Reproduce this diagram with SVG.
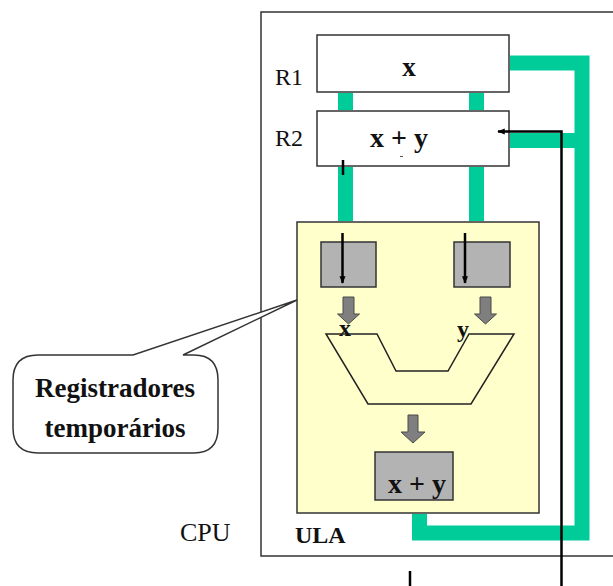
<svg xmlns="http://www.w3.org/2000/svg" width="613" height="586" viewBox="0 0 613 586">
<defs>
<style>
.t{font-family:"Liberation Serif","Times New Roman",serif;fill:#111}
.b{font-weight:bold}
.box{stroke:#333;stroke-width:1.5}
.bus{fill:none;stroke:#00CC99;stroke-width:15}
.busr{fill:#00CC99}
.wire{fill:none;stroke:#000;stroke-width:2.5}
.blk{fill:#7f7f7f;stroke:#4a4a4a;stroke-width:1}
</style>
<marker id="ah" viewBox="0 0 10 10" refX="9" refY="5" markerWidth="3" markerHeight="3" orient="auto">
<path d="M0,1 L10,5 L0,9 Z" fill="#000"/>
</marker>
</defs>
<rect width="613" height="586" fill="#fff"/>

<g id="cpu">
<rect x="261" y="12" width="370" height="544" fill="none" class="box"/>
<text class="t" x="180" y="541" font-size="26">CPU</text>
</g>

<g id="r1">
<rect x="317" y="35" width="192" height="57" fill="#fff" class="box"/>
<text class="t" x="275" y="85" font-size="24">R1</text>
<text class="t b" x="409" y="76" font-size="27" text-anchor="middle">x</text>
</g>

<g id="r2">
<rect x="317" y="111" width="192" height="55" fill="#fff" class="box"/>
<text class="t" x="275" y="146" font-size="24">R2</text>
<text class="t b" x="399" y="147" font-size="28" text-anchor="middle">x + y</text>
<line x1="400" y1="156.5" x2="403" y2="156.5" stroke="#555" stroke-width="1"/>
</g>

<g id="ula">
<rect x="297" y="222" width="242" height="291" fill="#FFFFCC" class="box"/>
<text class="t b" x="295" y="543" font-size="24">ULA</text>
</g>

<g id="reg-a">
<rect x="321" y="242" width="55" height="45" fill="#B3B3B3" class="box"/>
<line class="wire" x1="342.5" y1="233" x2="342.5" y2="283" marker-end="url(#ah)"/>
</g>
<g id="reg-b">
<rect x="454" y="242" width="56" height="45" fill="#B3B3B3" class="box"/>
<line class="wire" x1="465" y1="233" x2="465" y2="283" marker-end="url(#ah)"/>
</g>

<g id="alu">
<polygon points="326,334 377,334 396,371 448,371 469,334 514,334 471,404 368,404" fill="none" stroke="#222" stroke-width="1.5"/>
<text class="t b" x="345" y="336" font-size="24" text-anchor="middle">x</text>
<text class="t b" x="463" y="337" font-size="24" text-anchor="middle">y</text>
<polygon class="blk" points="343,297 354,297 354,314 359.5,314 348.5,324 337.5,314 343,314"/>
<polygon class="blk" points="480,297 491,297 491,314 496.5,314 485.5,324 474.5,314 480,314"/>
<polygon class="blk" points="408,415 418,415 418,432 425,432 413,443 401,432 408,432"/>
</g>

<g id="result">
<rect x="375" y="452" width="78" height="48" fill="#B3B3B3" class="box"/>
<text class="t b" x="417" y="493" font-size="28" text-anchor="middle">x + y</text>
</g>

<g id="connectors">
<rect class="busr" x="338" y="93" width="15" height="17"/>
<rect class="busr" x="469" y="93" width="15" height="17"/>
<rect class="busr" x="338" y="167" width="15" height="54"/>
<rect class="busr" x="469" y="167" width="15" height="54"/>
<path class="bus" d="M510,63 H582 V533 H419.5 V514"/>
<rect class="busr" x="510" y="133" width="65" height="15"/>
<path class="wire" d="M561.5,586 V131.5 H498" marker-end="url(#ah)"/>
<line class="wire" x1="343" y1="160" x2="343" y2="175"/>
<line class="wire" x1="410" y1="571" x2="410" y2="586"/>
</g>

<g id="callout">
<path d="M38,355 H133 L297,300 L183,355 H194 Q218,355 218,380 V428 Q218,453 194,453 H38 Q13,453 13,428 V380 Q13,355 38,355 Z" fill="#fff" stroke="#333" stroke-width="1.5"/>
<text class="t b" x="115" y="397" font-size="27" text-anchor="middle">Registradores</text>
<text class="t b" x="115" y="437" font-size="27" text-anchor="middle">temporários</text>
</g>
</svg>
